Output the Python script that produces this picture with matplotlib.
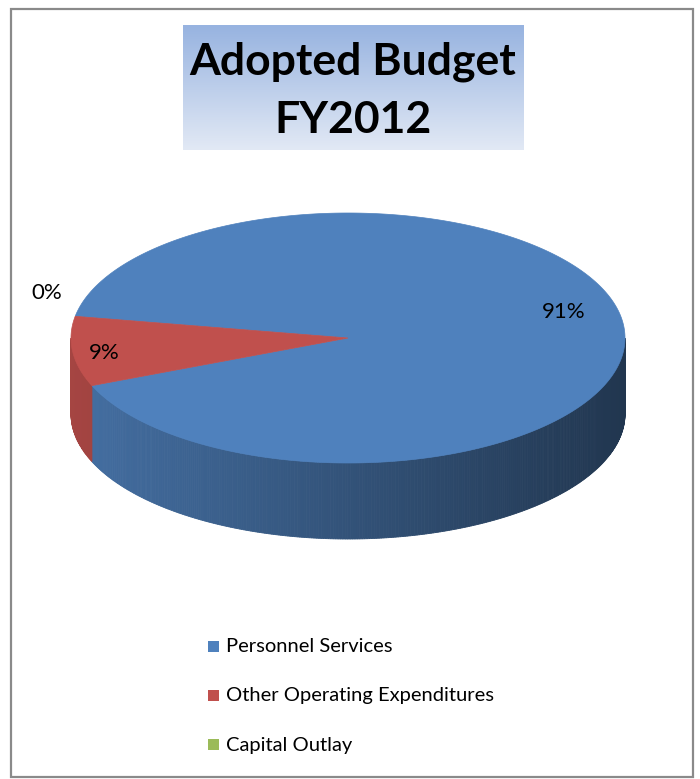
import numpy as np
import matplotlib
matplotlib.use("Agg")
from matplotlib import pyplot as plt
from matplotlib.patches import Polygon, Rectangle
import matplotlib.colors as mcolors

plt.rcParams['font.family'] = ['Lato', 'DejaVu Sans']

# data
categories = ['Personnel Services', 'Other Operating Expenditures', 'Capital Outlay']
shares = [91.0, 9.0, 0.0]
pct_labels = ['91%', '9%', '0%']
colors = ['#4f81bd', '#c0504d', '#9bbb59']
title_lines = ['Adopted Budget', 'FY2012']

# layout (pixel coordinates, y down)
W, H = 700, 779
cx, cy = 348, 338          # centre of the top face
ra, rb = 277, 125          # ellipse radii
depth = 76                 # thickness of the pie
start_angle = 170.0        # degrees, slices run clockwise
label_pos = [(564, 312), (104, 353), (47, 293)]

fig = plt.figure(figsize=(W / 100, H / 100), dpi=100)
ax = fig.add_axes([0, 0, 1, 1])
ax.set_xlim(0, W)
ax.set_ylim(H, 0)
ax.axis('off')


def rim(t):
    t = np.radians(t)
    return cx + ra * np.cos(t), cy - rb * np.sin(t)


# slice angle ranges (clockwise from start)
total = sum(shares)
bounds = []
a0 = start_angle
for s in shares:
    a1 = a0 - 360.0 * s / total
    bounds.append((a1, a0))
    a0 = a1

# side wall: only the front half (180..360 degrees) is visible
for (lo, hi), col in zip(bounds, colors):
    base = np.array(mcolors.to_rgb(col))
    for lo_k, hi_k in [(lo, hi), (lo + 360, hi + 360), (lo - 360, hi - 360)]:
        s0, s1 = max(lo_k, 180.0), min(hi_k, 360.0)
        if s1 <= s0:
            continue
        steps = np.linspace(s0, s1, max(2, int((s1 - s0) * 2) + 1))
        for t0, t1 in zip(steps[:-1], steps[1:]):
            x0, y0 = rim(t0)
            x1, y1 = rim(t1)
            tm = np.radians(0.5 * (t0 + t1))
            shade = 0.64 - 0.22 * np.cos(tm)
            c = np.clip(base * shade, 0, 1)
            ax.add_patch(Polygon([(x0, y0), (x1, y1), (x1, y1 + depth), (x0, y0 + depth)],
                                 closed=True, facecolor=c, edgecolor=c, linewidth=0.6))

# top face
for (lo, hi), col in zip(bounds, colors):
    if hi - lo <= 0:
        continue
    ts = np.linspace(hi, lo, max(3, int((hi - lo) * 2)))
    pts = [(cx, cy)] + [rim(t) for t in ts]
    ax.add_patch(Polygon(pts, closed=True, facecolor=col, edgecolor=col, linewidth=0.5))

# percentage labels
for txt, (lx, ly) in zip(pct_labels, label_pos):
    ax.text(lx, ly, txt, fontsize=16, ha='center', va='center', color='black')

# title box with vertical gradient
grad = np.linspace(0, 1, 256).reshape(-1, 1)
cmap = mcolors.LinearSegmentedColormap.from_list('tb', ['#97b3e0', '#e2e9f5'])
ax.imshow(grad, cmap=cmap, extent=(183, 524, 150, 25), aspect='auto', zorder=1)
ax.set_xlim(0, W)
ax.set_ylim(H, 0)
ax.text(353, 62, title_lines[0], fontsize=32, fontweight='bold', ha='center', va='center', zorder=2)
ax.text(353, 120, title_lines[1], fontsize=32, fontweight='bold', ha='center', va='center', zorder=2)

# legend
for i, (name, col) in enumerate(zip(categories, colors)):
    y = 647 + 49 * i
    ax.add_patch(Rectangle((208, y - 6), 11, 11, facecolor=col, edgecolor='none'))
    ax.text(226, y, name, fontsize=14.5, ha='left', va='center', color='black')

# outer border
ax.add_patch(Rectangle((11, 9), 682, 768, fill=False, edgecolor='#8a8a8a', linewidth=1.6))

fig.savefig('out.png', dpi=100)
